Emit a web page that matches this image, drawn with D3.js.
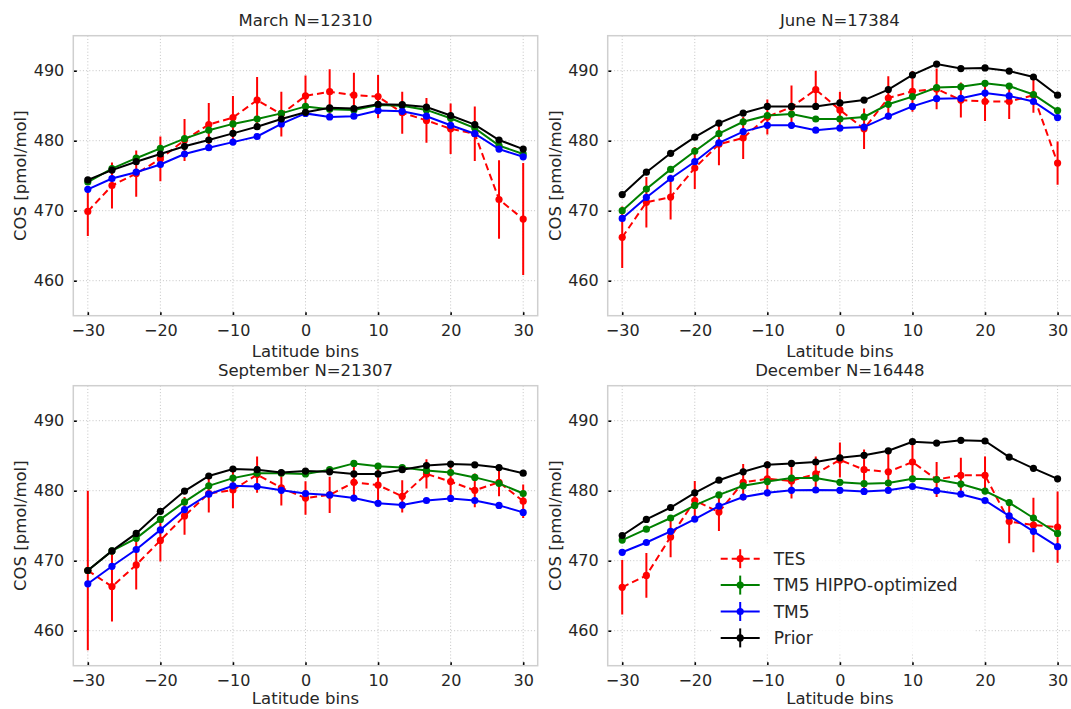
<!DOCTYPE html>
<html>
<head>
<meta charset="utf-8">
<script src="https://cdn.jsdelivr.net/npm/d3@7"></script>
<style>
  html, body { margin: 0; padding: 0; background: #fff; }
  svg { display: block; font-family: "DejaVu Sans", sans-serif; }
</style>
</head>
<body>
<svg id="chart" width="1071" height="709"></svg>
<script>
// Latitude bin centres (degrees)
const latitudeBins = [-30, -26.67, -23.33, -20, -16.67, -13.33, -10, -6.67, -3.33, 0,
  3.33, 6.67, 10, 13.33, 16.67, 20, 23.33, 26.67, 30];

const xTicks = [-30, -20, -10, 0, 10, 20, 30];
const yTicks = [460, 470, 480, 490];

const seriesNames = ["TES", "TM5 HIPPO-optimized", "TM5", "Prior"];
const seriesColors = ["#ff0000", "#008000", "#0000ff", "#000000"];

// March
const marchTes = [469.9, 473.6, 475.3, 477.4, 480.1, 482.3, 483.3, 485.8, 483.8, 486.4, 487.0, 486.5, 486.3, 484.0, 482.9, 481.7, 481.0, 471.6, 468.8];
const marchTesErr = [3.5, 3.3, 3.3, 3.2, 3.0, 3.1, 3.1, 3.3, 3.2, 2.9, 3.2, 3.2, 3.1, 3.0, 3.2, 3.6, 3.9, 5.6, 8.0];
const marchHippo = [474.1, 476.0, 477.5, 478.9, 480.3, 481.5, 482.4, 483.1, 483.9, 484.9, 484.5, 484.4, 485.1, 485.0, 484.4, 483.2, 481.8, 479.3, 478.1];
const marchTm5 = [473.05, 474.6, 475.5, 476.6, 478.1, 479.0, 479.8, 480.6, 482.4, 483.9, 483.4, 483.5, 484.3, 484.2, 483.5, 482.2, 481.0, 478.8, 477.7];
const marchPrior = [474.4, 475.8, 477.0, 478.1, 479.2, 480.1, 481.05, 482.0, 483.1, 484.05, 484.7, 484.6, 485.2, 485.15, 484.8, 483.6, 482.3, 480.1, 478.8];

// June
const juneTes = [466.2, 471.2, 471.95, 476.1, 479.5, 480.4, 483.4, 484.8, 487.3, 484.4, 481.7, 486.1, 487.05, 487.4, 485.8, 485.6, 485.6, 486.5, 476.8];
const juneTesErr = [4.4, 3.6, 3.2, 3.0, 3.0, 3.0, 2.5, 3.1, 2.7, 2.6, 2.9, 3.1, 2.9, 2.9, 2.5, 2.8, 2.5, 2.5, 3.1];
const juneHippo = [470.0, 473.1, 475.9, 478.5, 481.0, 482.7, 483.6, 483.8, 483.1, 483.1, 483.4, 485.2, 486.3, 487.6, 487.7, 488.2, 487.8, 486.6, 484.3];
const juneTm5 = [468.9, 471.9, 474.6, 477.0, 479.7, 481.3, 482.2, 482.2, 481.5, 481.8, 481.95, 483.5, 484.9, 486.0, 486.05, 486.8, 486.4, 485.6, 483.3];
const junePrior = [472.3, 475.5, 478.2, 480.5, 482.5, 483.95, 484.9, 484.9, 484.9, 485.4, 485.8, 487.3, 489.4, 490.95, 490.3, 490.4, 489.95, 489.1, 486.5];

// September
const septTes = [468.6, 466.3, 469.4, 472.9, 476.4, 479.6, 480.1, 482.3, 480.4, 478.95, 479.4, 481.2, 480.8, 479.2, 482.4, 481.3, 480.05, 481.2, 478.5];
const septTesErr = [11.4, 5.0, 3.5, 3.0, 2.7, 2.7, 2.6, 2.6, 2.5, 2.4, 2.6, 2.5, 2.7, 2.3, 2.1, 2.1, 2.4, 2.0, 2.4];
const septHippo = [468.6, 471.4, 473.2, 475.9, 478.4, 480.7, 481.8, 482.5, 482.5, 482.4, 483.0, 483.9, 483.5, 483.3, 482.9, 482.6, 481.9, 481.05, 479.6];
const septTm5 = [466.7, 469.2, 471.6, 474.4, 477.3, 479.5, 480.7, 480.6, 480.05, 479.6, 479.4, 478.95, 478.2, 477.95, 478.6, 478.9, 478.6, 477.9, 476.9];
const septPrior = [468.6, 471.4, 473.9, 477.05, 479.95, 482.1, 483.1, 483.0, 482.6, 482.8, 482.7, 482.4, 482.4, 483.0, 483.6, 483.8, 483.7, 483.3, 482.5];

// December
const decTes = [466.2, 467.9, 473.4, 478.6, 476.95, 481.2, 481.7, 481.4, 482.4, 484.4, 483.0, 482.7, 484.1, 481.6, 482.2, 482.2, 475.6, 475.1, 474.8];
const decTesErr = [3.9, 3.2, 2.9, 2.8, 2.7, 2.6, 2.5, 2.5, 2.5, 2.5, 2.9, 2.6, 2.8, 2.5, 2.5, 2.7, 3.1, 3.9, 5.1];
const decHippo = [472.95, 474.5, 476.1, 477.9, 479.4, 480.7, 481.3, 481.8, 481.8, 481.2, 481.0, 481.1, 481.7, 481.6, 480.95, 479.95, 478.3, 476.1, 473.9];
const decTm5 = [471.2, 472.6, 474.2, 475.95, 477.8, 479.1, 479.7, 480.05, 480.1, 480.05, 479.9, 480.05, 480.6, 480.0, 479.5, 478.6, 476.4, 474.2, 472.0];
const decPrior = [473.6, 475.9, 477.6, 479.7, 481.5, 482.7, 483.7, 483.9, 484.1, 484.7, 485.05, 485.7, 487.0, 486.8, 487.2, 487.1, 484.8, 483.2, 481.7];

const panels = [
  { title: "March N=12310", tes: marchTes, err: marchTesErr, hippo: marchHippo, tm5: marchTm5, prior: marchPrior, col: 0, row: 0 },
  { title: "June N=17384", tes: juneTes, err: juneTesErr, hippo: juneHippo, tm5: juneTm5, prior: junePrior, col: 1, row: 0 },
  { title: "September N=21307", tes: septTes, err: septTesErr, hippo: septHippo, tm5: septTm5, prior: septPrior, col: 0, row: 1 },
  { title: "December N=16448", tes: decTes, err: decTesErr, hippo: decHippo, tm5: decTm5, prior: decPrior, col: 1, row: 1, legend: true }
];

// Layout of the 2x2 grid of axes
const colLeft = [73.3, 607.7];
const rowTop = [35.7, 385.7];
const xLabelOffset = [41.5, 38];
const axW = 464.4, axH = 280;

const svg = d3.select("#chart");
const textColor = "#262626";

panels.forEach(p => {
  const left = colLeft[p.col], top = rowTop[p.row];
  const x = d3.scaleLinear().domain([-32, 32]).range([left, left + axW]);
  const y = d3.scaleLinear().domain([455, 495]).range([top + axH, top]);
  const g = svg.append("g");

  const clipId = "clip" + p.col + p.row;
  svg.append("clipPath").attr("id", clipId)
    .append("rect").attr("x", left).attr("y", top).attr("width", axW).attr("height", axH);

  // dotted grid
  const grid = g.append("g").attr("stroke", "#c4c4c4").attr("stroke-width", 1)
    .attr("stroke-dasharray", "1,2.2");
  grid.selectAll(".gx").data(xTicks).join("line")
    .attr("x1", d => x(d)).attr("x2", d => x(d)).attr("y1", top).attr("y2", top + axH);
  grid.selectAll(".gy").data(yTicks).join("line")
    .attr("y1", d => y(d)).attr("y2", d => y(d)).attr("x1", left).attr("x2", left + axW);

  // axes (inward ticks)
  const xAxis = d3.axisBottom(x).tickValues(xTicks).tickSizeInner(-3.5).tickSizeOuter(0)
    .tickPadding(9).tickFormat(d => d < 0 ? "\u2212" + Math.abs(d) : String(d));
  const yAxis = d3.axisLeft(y).tickValues(yTicks).tickSizeInner(-3.5).tickSizeOuter(0)
    .tickPadding(9).tickFormat(d3.format("d"));

  const gx = g.append("g").attr("transform", `translate(0,${top + axH})`).call(xAxis);
  const gy = g.append("g").attr("transform", `translate(${left},0)`).call(yAxis);
  [gx, gy].forEach(a => {
    a.select(".domain").remove();
    a.selectAll(".tick line").attr("stroke", "#000").attr("stroke-width", 1.6);
    a.selectAll(".tick text").attr("fill", textColor).style("font-size", "16px")
      .style("font-family", "DejaVu Sans, sans-serif");
  });

  // frame
  g.append("rect").attr("x", left).attr("y", top).attr("width", axW).attr("height", axH)
    .attr("fill", "none").attr("stroke", "#cfcfcf").attr("stroke-width", 1.5);

  // titles and labels
  g.append("text").attr("x", left + axW / 2).attr("y", top - 10)
    .attr("text-anchor", "middle").attr("fill", textColor).style("font-size", "16.5px")
    .text(p.title);
  g.append("text").attr("x", left + axW / 2).attr("y", top + axH + xLabelOffset[p.row])
    .attr("text-anchor", "middle").attr("fill", textColor).style("font-size", "16.5px")
    .text("Latitude bins");
  g.append("text")
    .attr("transform", `translate(${left - 47},${top + axH / 2}) rotate(-90)`)
    .attr("text-anchor", "middle").attr("fill", textColor).style("font-size", "16.5px")
    .text("COS [pmol/mol]");

  const plot = g.append("g").attr("clip-path", `url(#${clipId})`);
  const line = d3.line().x((d, i) => x(latitudeBins[i])).y(d => y(d));

  const series = [
    { values: p.tes, err: p.err, color: seriesColors[0], dash: "7,4" },
    { values: p.hippo, color: seriesColors[1] },
    { values: p.tm5, color: seriesColors[2] },
    { values: p.prior, color: seriesColors[3] }
  ];

  series.forEach(s => {
    const sg = plot.append("g");
    if (s.err) {
      sg.selectAll("line.err").data(s.values).join("line")
        .attr("x1", (d, i) => x(latitudeBins[i])).attr("x2", (d, i) => x(latitudeBins[i]))
        .attr("y1", (d, i) => y(d - s.err[i])).attr("y2", (d, i) => y(d + s.err[i]))
        .attr("stroke", s.color).attr("stroke-width", 2);
    }
    sg.append("path").datum(s.values).attr("d", line)
      .attr("fill", "none").attr("stroke", s.color).attr("stroke-width", 2)
      .attr("stroke-dasharray", s.dash || null);
    sg.selectAll("circle").data(s.values).join("circle")
      .attr("cx", (d, i) => x(latitudeBins[i])).attr("cy", d => y(d))
      .attr("r", 3.6).attr("fill", s.color);
  });

  if (p.legend) {
    const lg = g.append("g");
    const lx = left + 105, ly = top + 158;
    lg.append("rect").attr("x", lx).attr("y", ly).attr("width", 262).attr("height", 110)
      .attr("fill", "#fff").attr("fill-opacity", 0.85);
    seriesNames.forEach((name, i) => {
      const cy = ly + 15 + i * 26.4;
      const item = lg.append("g");
      item.append("line").attr("x1", lx + 8).attr("x2", lx + 47).attr("y1", cy).attr("y2", cy)
        .attr("stroke", seriesColors[i]).attr("stroke-width", 2)
        .attr("stroke-dasharray", i === 0 ? "7,4" : null);
      item.append("line").attr("x1", lx + 27.5).attr("x2", lx + 27.5).attr("y1", cy - 9.5).attr("y2", cy + 9.5)
        .attr("stroke", seriesColors[i]).attr("stroke-width", 2);
      item.append("circle").attr("cx", lx + 27.5).attr("cy", cy).attr("r", 3.6).attr("fill", seriesColors[i]);
      item.append("text").attr("x", lx + 61).attr("y", cy).attr("dy", "0.36em")
        .attr("fill", textColor).style("font-size", "17px").text(name);
    });
  }
});
</script>
</body>
</html>
